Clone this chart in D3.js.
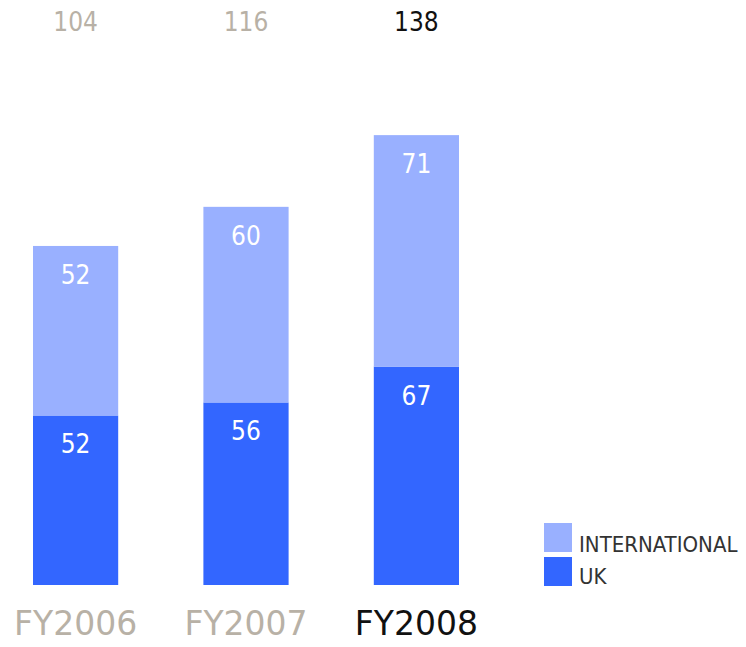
<!DOCTYPE html>
<html>
<head>
<meta charset="utf-8">
<script src="https://cdn.jsdelivr.net/npm/d3@7"></script>
<style>
  body { margin: 0; background: #fff; }
  text { font-family: "DejaVu Sans Condensed", "DejaVu Sans", sans-serif; font-stretch: condensed; }
  text.year { font-family: "DejaVu Sans", sans-serif; font-stretch: normal; }
</style>
</head>
<body>
<div id="chart"></div>
<script>
const years = ["FY2006", "FY2007", "FY2008"];
const uk = [52, 56, 67];
const international = [52, 60, 71];
const totals = [104, 116, 138];
const seriesNames = ["INTERNATIONAL", "UK"];

const width = 746;
const height = 647;
const baseY = 585;
const pxPerUnit = 3.26;

const svg = d3.select("#chart")
  .append("svg")
  .attr("width", width)
  .attr("height", height);

const x = d3.scaleBand()
  .domain(years)
  .range([33, 459])
  .paddingInner(0.5)
  .paddingOuter(0);

const y = d3.scaleLinear()
  .domain([0, 138])
  .range([baseY, baseY - 138 * pxPerUnit]);

const color = { "UK": "#3366ff", "INTERNATIONAL": "#99b0ff" };
const grey = "#b8b1a6";
const labelColor = (i) => i === years.length - 1 ? "#111" : grey;

const rows = years.map((yr, i) => ({ year: yr, uk: uk[i], intl: international[i], total: totals[i] }));

// UK bars
svg.selectAll(".uk").data(rows).join("rect")
  .attr("class", "uk")
  .attr("x", d => x(d.year))
  .attr("width", x.bandwidth())
  .attr("y", d => y(d.uk))
  .attr("height", d => y(0) - y(d.uk))
  .attr("fill", color.UK);

// International bars
svg.selectAll(".intl").data(rows).join("rect")
  .attr("class", "intl")
  .attr("x", d => x(d.year))
  .attr("width", x.bandwidth())
  .attr("y", d => y(d.uk + d.intl))
  .attr("height", d => y(d.uk) - y(d.uk + d.intl))
  .attr("fill", color.INTERNATIONAL);

// value labels inside segments
svg.selectAll(".uk-lbl").data(rows).join("text")
  .attr("x", d => x(d.year) + x.bandwidth() / 2)
  .attr("y", d => y(d.uk) + 38)
  .attr("text-anchor", "middle")
  .attr("fill", "#fff")
  .style("font-size", "26px")
  .text(d => d.uk);

svg.selectAll(".intl-lbl").data(rows).join("text")
  .attr("x", d => x(d.year) + x.bandwidth() / 2)
  .attr("y", d => y(d.uk + d.intl) + 38)
  .attr("text-anchor", "middle")
  .attr("fill", "#fff")
  .style("font-size", "26px")
  .text(d => d.intl);

// totals at top
svg.selectAll(".total").data(rows).join("text")
  .attr("x", d => x(d.year) + x.bandwidth() / 2)
  .attr("y", 31)
  .attr("text-anchor", "middle")
  .attr("fill", (d, i) => labelColor(i))
  .style("font-size", "26px")
  .text(d => d.total);

// category labels
svg.selectAll(".year").data(rows).join("text")
  .attr("class", "year")
  .attr("x", d => x(d.year) + x.bandwidth() / 2)
  .attr("y", 635)
  .attr("text-anchor", "middle")
  .attr("fill", (d, i) => labelColor(i))
  .style("font-size", "33px")
  .text(d => d.year);

// legend
const legend = svg.append("g").attr("transform", "translate(544, 523)");
seriesNames.forEach((name, i) => {
  const g = legend.append("g").attr("transform", `translate(0, ${i * 34})`);
  g.append("rect").attr("width", 28).attr("height", 29).attr("fill", color[name]);
  g.append("text")
    .attr("x", 35)
    .attr("y", 29 - i * 2)
    .attr("fill", "#333")
    .style("font-size", "22px")
    .text(name);
});
</script>
</body>
</html>
